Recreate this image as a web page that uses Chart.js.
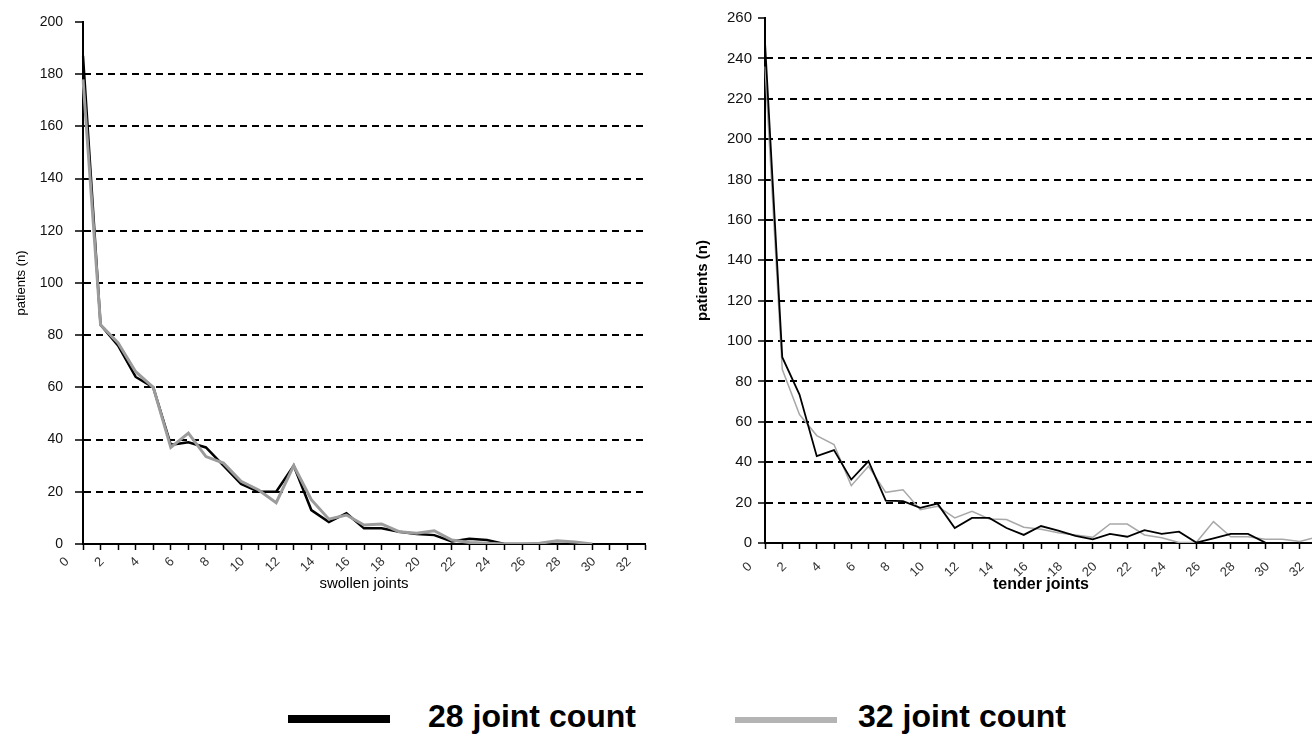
<!DOCTYPE html>
<html>
<head>
<meta charset="utf-8">
<script src="https://cdn.jsdelivr.net/npm/chart.js@4"></script>
<style>
  html, body { margin: 0; padding: 0; background: #fff; }
  body { width: 1312px; height: 736px; overflow: hidden; position: relative; }
  .box { position: absolute; top: 0; height: 620px; }
  #leftBox { left: 0; width: 680px; }
  #rightBox { left: 680px; width: 660px; }
  .legLine { position: absolute; }
  .legText { position: absolute; font: bold 32px "Liberation Sans", Arial, sans-serif; line-height: 32px; color: #000; white-space: nowrap; }
</style>
</head>
<body>
<div class="box" id="leftBox"><canvas id="swollenChart"></canvas></div>
<div class="box" id="rightBox"><canvas id="tenderChart"></canvas></div>

<div class="legLine" style="left:288px; top:715px; width:102px; height:8px; background:#000;"></div>
<div class="legText" style="left:428px; top:700px;">28 joint count</div>
<div class="legLine" style="left:735px; top:717px; width:102px; height:6px; background:#b4b4b4;"></div>
<div class="legText" style="left:858px; top:700px;">32 joint count</div>

<script>
// categorias: numero de articulaciones 0..32
const jointCounts = ['0','1','2','3','4','5','6','7','8','9','10','11','12','13','14','15','16',
    '17','18','19','20','21','22','23','24','25','26','27','28','29','30','31','32'];

// articulaciones inflamadas (swollen)
const swollen28 = [187, 84, 76, 64, 60, 38, 39, 37, 30, 23, 20, 20, 30, 13, 8.4, 11.8, 6, 6, 4.7, 3.8,
    3.4, 1, 2, 1.5, 0, 0, 0, 0, 0];
const swollen32 = [178, 84, 77, 66, 60, 37, 42.5, 33.5, 31, 24, 20.7, 15.8, 30, 17, 9.5, 11.1, 7.3, 7.7,
    4.7, 4.1, 5.1, 1.5, 0.6, 0.3, 0, 0, 0.3, 1.2, 0.8, 0];

// articulaciones dolorosas (tender)
const tender28 = [248, 92, 73.5, 43, 46, 31.4, 40.5, 21, 20.7, 17.4, 19.5, 7.4, 12.4, 12.4, 7.4, 4, 8.4,
    6.1, 3.5, 1.8, 4.5, 3.1, 6.4, 4.5, 5.6, 0.2, 2.3, 4.5, 4.5, 0.2];
const tender32 = [236, 86, 63.6, 53.2, 48.8, 28.4, 38, 25.1, 26.4, 16.5, 18.2, 12.4, 15.7, 11.9, 11.6,
    7.8, 6.8, 5.1, 4, 2.8, 9.4, 9.4, 4, 2.6, 0.2, 0.2, 10.6, 3.1, 3.1, 1.8, 1.8, 0.7, 3];

const FONT = '"Liberation Sans", Arial, sans-serif';

function buildChart(canvasId, cfg) {
    const ctx = document.getElementById(canvasId).getContext('2d');
    return new Chart(ctx, {
        type: 'line',
        data: {
            labels: jointCounts,
            datasets: [{
                label: '28 joint count',
                data: cfg.black,
                borderColor: '#000',
                borderWidth: cfg.blackWidth,
                order: cfg.blackOrder,
                pointRadius: 0,
                tension: 0
            }, {
                label: '32 joint count',
                data: cfg.gray,
                borderColor: cfg.grayColor,
                borderWidth: cfg.grayWidth,
                order: cfg.grayOrder,
                pointRadius: 0,
                tension: 0
            }]
        },
        options: {
            responsive: true,
            maintainAspectRatio: false,
            animation: false,
            layout: { padding: { top: cfg.padTop, right: cfg.padRight, left: 0, bottom: 0 } },
            plugins: { legend: { display: false }, tooltip: { enabled: false } },
            scales: {
                x: {
                    afterFit: scale => { scale.height = cfg.xHeight; },
                    grid: { drawOnChartArea: false, tickLength: 6, tickColor: '#000', tickWidth: 1.5 },
                    border: { color: '#000', width: 2 },
                    ticks: {
                        autoSkip: false,
                        minRotation: 45,
                        maxRotation: 45,
                        labelOffset: cfg.labelOffset,
                        padding: cfg.xPad,
                        color: '#333',
                        font: { family: FONT, size: 13 },
                        callback: (v, i) => (i % 2 === 0 ? jointCounts[i] : '')
                    },
                    title: {
                        display: true,
                        text: cfg.xTitle,
                        color: '#000',
                        font: { family: FONT, size: cfg.titleSize, weight: cfg.titleWeight },
                        padding: { top: 0, bottom: cfg.xTitlePad }
                    }
                },
                y: {
                    min: 0,
                    max: cfg.yMax,
                    afterFit: scale => { scale.width = cfg.yWidth; },
                    grid: {
                        lineWidth: 2,
                        color: c => (c.tick && (c.tick.value === 0 || c.tick.value === cfg.yMax) ? 'rgba(0,0,0,0)' : '#000'),
                        tickColor: '#000',
                        tickWidth: 1.5,
                        tickLength: cfg.yTickLen
                    },
                    border: { color: '#000', width: 2, dash: [7, 5] },
                    ticks: {
                        stepSize: 20,
                        padding: cfg.yPad,
                        color: '#111',
                        font: { family: FONT, size: cfg.yFont }
                    },
                    title: {
                        display: true,
                        text: 'patients (n)',
                        color: '#000',
                        font: { family: FONT, size: cfg.yTitleSize, weight: cfg.titleWeight },
                        padding: { top: cfg.yTitlePad, bottom: 0 }
                    }
                }
            }
        }
    });
}

// izquierda: swollen joints
buildChart('swollenChart', {
    black: swollen28, gray: swollen32,
    blackWidth: 2.5, grayWidth: 3, grayColor: '#9c9c9c',
    blackOrder: 1, grayOrder: 0,
    padTop: 22, padRight: 35,
    xHeight: 76, yWidth: 83, yMax: 200,
    labelOffset: -16, xPad: 4,
    xTitle: 'swollen joints', titleSize: 15, titleWeight: 'normal', xTitlePad: 27,
    yTickLen: 8, yPad: 12, yFont: 14,
    yTitleSize: 13, yTitlePad: 14
});

// derecha: tender joints
buildChart('tenderChart', {
    black: tender28, gray: tender32,
    blackWidth: 1.8, grayWidth: 1.5, grayColor: '#a8a8a8',
    blackOrder: 0, grayOrder: 1,
    padTop: 18, padRight: 23,
    xHeight: 77, yWidth: 85, yMax: 260,
    labelOffset: -15, xPad: 10,
    xTitle: 'tender joints', titleSize: 16, titleWeight: 'bold', xTitlePad: 26,
    yTickLen: 7, yPad: 6, yFont: 15,
    yTitleSize: 15, yTitlePad: 14
});
</script>
</body>
</html>
